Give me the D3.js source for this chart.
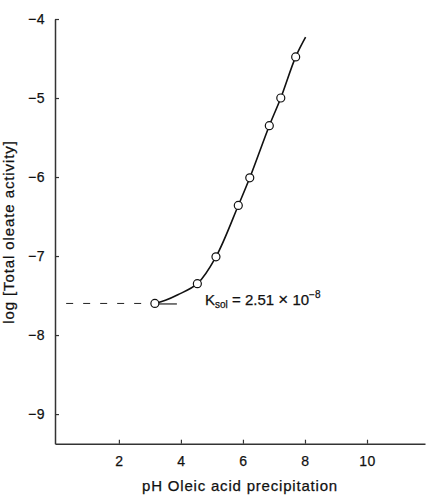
<!DOCTYPE html>
<html lang="en">
<head>
  <meta charset="UTF-8" />
  <title>Oleic acid precipitation</title>
  <script src="https://cdn.jsdelivr.net/npm/d3@7"></script>
  <style>
    body { margin: 0; background: #fff; }
    svg text { font-family: "Liberation Sans", Arial, Helvetica, sans-serif; fill: #111; stroke: #111; stroke-width: 0.25px; }
  </style>
</head>
<body>
  <div id="chart"></div>

  <script>
  // measured points (pH, log total oleate activity)
  var pointPH  = [3.16, 4.53, 5.13, 5.85, 6.22, 6.85, 7.22, 7.70];
  var pointLog = [-7.60, -7.35, -7.01, -6.36, -6.01, -5.35, -5.00, -4.48];

  // fitted curve
  var curvePH  = [3.16, 3.5, 3.9, 4.53, 5.13, 5.85, 6.22, 6.85, 7.22, 7.70, 8.02];
  var curveLog = [-7.60, -7.56, -7.49, -7.35, -7.01, -6.36, -6.01, -5.35, -5.00, -4.48, -4.23];

  // Ksol extrapolation
  var ksolLog = -7.6;
  var dashPH = [0.3, 3.16];
  var tailPH = [3.16, 3.87];

  var xTicks = [2, 4, 6, 8, 10];
  var yTicks = [-4, -5, -6, -7, -8, -9];

  var width = 430, height = 500;

  var svg = d3.select("#chart")
    .append("svg")
    .attr("width", width)
    .attr("height", height);

  var xScale = d3.scaleLinear()
    .domain([-0.06, 11.87])
    .range([55, 425]);

  var yScale = d3.scaleLinear()
    .domain([-9.375, -4])
    .range([443.7, 19]);

  var fmt = function(d){ return String(d).replace("-", "\u2212"); };

  var xAxis = d3.axisBottom(xScale)
    .tickValues(xTicks)
    .tickSizeInner(-4)
    .tickSizeOuter(0)
    .tickPadding(12)
    .tickFormat(fmt);

  var yAxis = d3.axisLeft(yScale)
    .tickValues(yTicks)
    .tickSizeInner(-4)
    .tickSizeOuter(0)
    .tickPadding(10)
    .tickFormat(fmt);

  var gx = svg.append("g")
    .attr("class", "x-axis")
    .attr("transform", "translate(0," + yScale.range()[0] + ")")
    .call(xAxis);

  var gy = svg.append("g")
    .attr("class", "y-axis")
    .attr("transform", "translate(" + xScale.range()[0] + ",0)")
    .call(yAxis);

  [gx, gy].forEach(function(g){
    g.select(".domain").attr("stroke", "#333").attr("stroke-width", 1.5);
    g.selectAll(".tick line").attr("stroke", "#333").attr("stroke-width", 1.2);
    g.selectAll(".tick text")
      .attr("font-size", "14px")
      .attr("letter-spacing", "0.5px")
      .attr("fill", "#111");
  });

  // axis titles
  svg.append("text")
    .attr("x", 240)
    .attr("y", 491)
    .attr("text-anchor", "middle")
    .attr("font-size", "15px")
    .attr("letter-spacing", "0.8px")
    .text("pH Oleic acid precipitation");

  svg.append("text")
    .attr("transform", "translate(14," + 232 + ") rotate(-90)")
    .attr("text-anchor", "middle")
    .attr("font-size", "15px")
    .attr("letter-spacing", "0.9px")
    .text("log [Total oleate activity]");

  // dashed extrapolation to the axis
  svg.append("line")
    .attr("x1", xScale(dashPH[0]))
    .attr("x2", xScale(dashPH[1]))
    .attr("y1", yScale(ksolLog))
    .attr("y2", yScale(ksolLog))
    .attr("stroke", "#222")
    .attr("stroke-width", 1)
    .attr("stroke-dasharray", "7,10");

  svg.append("line")
    .attr("x1", xScale(tailPH[0]))
    .attr("x2", xScale(tailPH[1]))
    .attr("y1", yScale(ksolLog) + 0.5)
    .attr("y2", yScale(ksolLog) + 0.5)
    .attr("stroke", "#222")
    .attr("stroke-width", 1.2);

  // fitted curve
  var line = d3.line()
    .x(function(d){ return xScale(d[0]); })
    .y(function(d){ return yScale(d[1]); })
    .curve(d3.curveCatmullRom.alpha(0.5));

  svg.append("path")
    .datum(d3.zip(curvePH, curveLog))
    .attr("d", line)
    .attr("fill", "none")
    .attr("stroke", "#111")
    .attr("stroke-width", 1.6);

  // data points
  svg.selectAll("circle.pt")
    .data(d3.zip(pointPH, pointLog))
    .enter()
    .append("circle")
    .attr("class", "pt")
    .attr("cx", function(d){ return xScale(d[0]); })
    .attr("cy", function(d){ return yScale(d[1]); })
    .attr("r", 4)
    .attr("fill", "#fff")
    .attr("stroke", "#111")
    .attr("stroke-width", 1.2);

  // Ksol annotation
  var ann = svg.append("text")
    .attr("x", 205)
    .attr("y", 305)
    .attr("font-size", "15px");
  ann.append("tspan").text("K");
  ann.append("tspan").attr("font-size", "10px").attr("dy", 3).text("sol");
  ann.append("tspan").attr("dy", -3).text(" = 2.51 ");
  ann.append("tspan").attr("font-size", "17px").text("\u00d7");
  ann.append("tspan").text(" 10");
  ann.append("tspan").attr("font-size", "10px").attr("dy", -7).text("\u22128");
  </script>
</body>
</html>
